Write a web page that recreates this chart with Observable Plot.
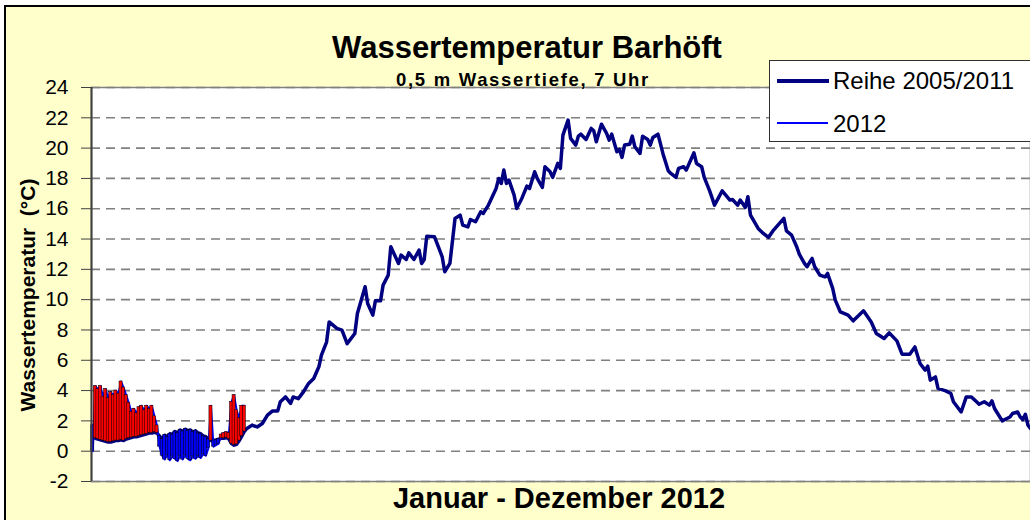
<!DOCTYPE html>
<html><head><meta charset="utf-8">
<script src="https://cdn.jsdelivr.net/npm/d3@7"></script>
<script src="https://cdn.jsdelivr.net/npm/@observablehq/plot@0.6"></script>
<style>
body{margin:0;background:#fff;font-family:"Liberation Sans",Arial,sans-serif;}
#wrap{position:relative;width:1030px;height:520px;overflow:hidden;}
#bg{position:absolute;left:4px;top:5px;width:1040px;height:530px;background:#FFFFCC;border-left:2px solid #000;border-top:2px solid #000;}
#chart{position:absolute;left:0;top:0;}
.t{position:absolute;font-weight:bold;color:#000;white-space:nowrap;transform:translateX(-50%);line-height:1;}
#legend{position:absolute;left:769px;top:60px;width:280px;height:80px;background:#fff;border:1.5px solid #303030;}
.ls{position:absolute;}
.lt{position:absolute;font-size:24px;line-height:1;color:#000;white-space:nowrap;}
</style></head>
<body>
<div id="wrap">
  <div id="bg"></div>
  <div id="chart"></div>
  <div class="t" style="left:527px;top:32px;font-size:31px;">Wassertemperatur Barhöft</div>
  <div class="t" style="left:523px;top:71px;font-size:18.5px;letter-spacing:1.7px;">0,5 m Wassertiefe, 7 Uhr</div>
  <div class="t" style="left:559px;top:484px;font-size:29px;">Januar - Dezember 2012</div>
  <div class="t" style="left:27px;top:295px;font-size:21px;transform:translate(-50%,-50%) rotate(-90deg);">Wassertemperatur&nbsp;&nbsp;(°C)</div>
  <div id="legend">
    <div class="ls" style="left:7px;top:18px;width:52px;height:4px;background:#000080;"></div>
    <div class="lt" style="left:63px;top:8px;">Reihe 2005/2011</div>
    <div class="ls" style="left:7px;top:61px;width:51px;height:2px;background:#0000FF;"></div>
    <div class="lt" style="left:63px;top:51px;">2012</div>
  </div>
</div>
<script>
const yTicks = [-2,0,2,4,6,8,10,12,14,16,18,20,22,24];

// long-term mean (Reihe 2005/2011), daily, days 1-60
const avgEarly = [1.7,0.85,0.8,0.75,0.7,0.65,0.6,0.6,0.65,0.7,
  0.7,0.75,0.7,0.8,0.85,0.9,0.95,0.95,1.0,1.05,
  1.1,1.15,1.2,1.2,1.25,1.2,1.0,0.8,1.05,0.95,
  1.15,1.1,1.3,1.2,1.4,1.3,1.45,1.35,1.4,1.25,
  1.35,1.2,1.15,1.0,0.95,0.8,0.7,0.7,0.75,0.8,
  0.85,0.85,0.9,0.8,0.5,0.4,0.45,0.7,1.0,1.3];

// long-term mean, rest of the year: [day of year, °C]
const avgLate = [[61,1.5],[63,1.72],[65,1.6],[67,1.83],[69,2.38],[71,2.66],[73,2.66],[74,3.26],[76,3.58],[78,3.15],
  [79,3.58],[81,3.47],[83,3.91],[85,4.47],[87,4.8],[89,5.57],[90,6.34],[92,7.2],[93,8.53],[96,8.1],
  [98,7.99],[100,7.1],[103,7.77],[104,9.09],[107,10.85],[108,9.75],[110,8.98],[111,9.92],[113,9.92],[114,10.96],
  [116,11.62],[117,13.49],[120,12.39],[121,12.94],[123,12.65],[124,13.09],[126,12.65],[128,13.27],[129,12.39],[130,12.65],
  [131,14.19],[134,14.15],[135,13.71],[137,12.83],[138,11.84],[140,12.39],[142,15.36],[144,15.58],[145,14.92],[147,14.8],
  [148,15.29],[150,15.14],[152,15.8],[153,15.69],[155,16.24],[156,16.61],[158,17.34],[159,18.0],[160,17.67],[161,18.55],
  [162,17.67],[163,17.89],[165,16.9],[166,16.02],[168,16.68],[170,17.5],[171,17.34],[173,18.44],[174,18.0],[176,17.41],
  [177,18.77],[179,18.44],[180,18.07],[182,18.99],[183,18.66],[184,20.86],[186,21.85],[187,20.64],[189,20.2],[190,20.79],
  [191,20.92],[193,20.57],[195,21.3],[196,21.14],[197,20.42],[199,21.58],[201,20.97],[202,20.53],[203,20.92],[205,19.76],
  [206,19.91],[207,19.39],[208,20.2],[210,20.26],[211,20.79],[212,20.09],[214,19.65],[215,20.79],[217,20.57],[218,20.2],
  [219,20.7],[221,20.92],[223,19.6],[225,18.5],[226,18.33],[228,18.07],[229,18.66],[231,18.77],[232,18.55],[235,19.69],
  [236,18.99],[238,18.77],[239,18.07],[241,17.23],[242,16.75],[243,16.24],[246,17.18],[249,16.57],[250,16.61],[252,16.24],
  [253,16.57],[255,16.09],[256,16.79],[257,15.58],[260,14.7],[262,14.37],[264,14.11],[266,14.59],[270,15.36],[271,14.54],
  [273,14.26],[275,13.49],[276,13.0],[278,12.39],[279,12.17],[281,12.72],[282,12.17],[284,11.62],[286,11.5],[287,11.73],
  [289,10.74],[290,9.97],[292,9.19],[295,8.98],[297,8.6],[301,9.26],[304,8.53],[306,7.77],[309,7.44],[311,7.81],
  [314,7.28],[316,6.4],[319,6.4],[321,6.88],[323,5.79],[325,5.35],[326,5.61],[327,4.69],[329,4.9],[330,4.14],
  [333,3.98],[335,3.81],[336,3.26],[339,2.59],[341,3.58],[343,3.58],[345,3.26],[346,3.1],[348,3.26],[350,3.04],
  [351,3.32],[352,2.82],[355,2.0],[358,2.26],[359,2.49],[361,2.59],[362,2.26],[363,2.09],[364,2.44],[365,1.72],[366,1.5]];

// 2012 values, daily, days 1-60
const y2012 = [0.0,4.3,4.1,4.3,3.6,4.1,3.5,3.9,3.7,4.0,
  3.8,4.6,4.2,3.7,3.2,2.6,2.8,2.5,2.9,3.0,
  2.7,3.0,2.8,3.0,2.3,1.7,0.3,-0.3,-0.55,-0.25,
  -0.6,-0.35,-0.5,-0.65,-0.3,-0.55,-0.25,-0.5,-0.6,-0.35,
  -0.5,-0.3,-0.45,-0.2,-0.3,0.2,3.0,0.3,0.4,0.5,
  1.1,1.2,1.25,1.2,3.25,3.7,2.7,2.2,3.0,3.0];

const seriesColors = {mean:"#000080", y2012:"#0000FF", up:"#FF0000", down:"#0000FF"};

const avg = avgEarly.map((v,i)=>({day:i+1, t:v}))
  .concat(avgLate.map(([d,v])=>({day:d, t:v})));
const cur = y2012.map((v,i)=>({day:i+1, t:v, a:avgEarly[i]}));

const chart = Plot.plot({
  width:1030, height:520,
  marginLeft:91, marginRight:0, marginTop:87, marginBottom:39,
  x:{domain:[0.5,366], axis:null},
  y:{domain:[-2,24]},
  color:{type:"identity"},
  style:{background:"transparent", fontFamily:"'Liberation Sans', Arial, sans-serif", color:"#000", overflow:"visible"},
  marks:[
    Plot.frame({fill:"white"}),
    Plot.ruleY(yTicks, {stroke:"#808080", strokeWidth:1.6, strokeDasharray:"9,6"}),
    Plot.frame({stroke:"#808080", strokeWidth:1.5}),
    Plot.lineY(avg, {x:"day", y:"t", stroke:seriesColors.mean, strokeWidth:3.5}),
    Plot.lineY(cur, {x:"day", y:"t", stroke:seriesColors.y2012, strokeWidth:2}),
    Plot.rect(cur, {x1:d=>d.day-0.6, x2:d=>d.day+0.6, y1:"a", y2:"t",
      fill:d=>d.t>=d.a?seriesColors.up:seriesColors.down, stroke:"#000", strokeWidth:0.5}),
    Plot.axisY({ticks:yTicks, tickFormat:d=>String(d), tickSize:10, tickPadding:13, fontSize:21, stroke:"#404040", label:null}),
    Plot.ruleX([0.5], {stroke:"#404040", strokeWidth:2})
  ]
});
document.getElementById("chart").appendChild(chart);
</script>
</body></html>
